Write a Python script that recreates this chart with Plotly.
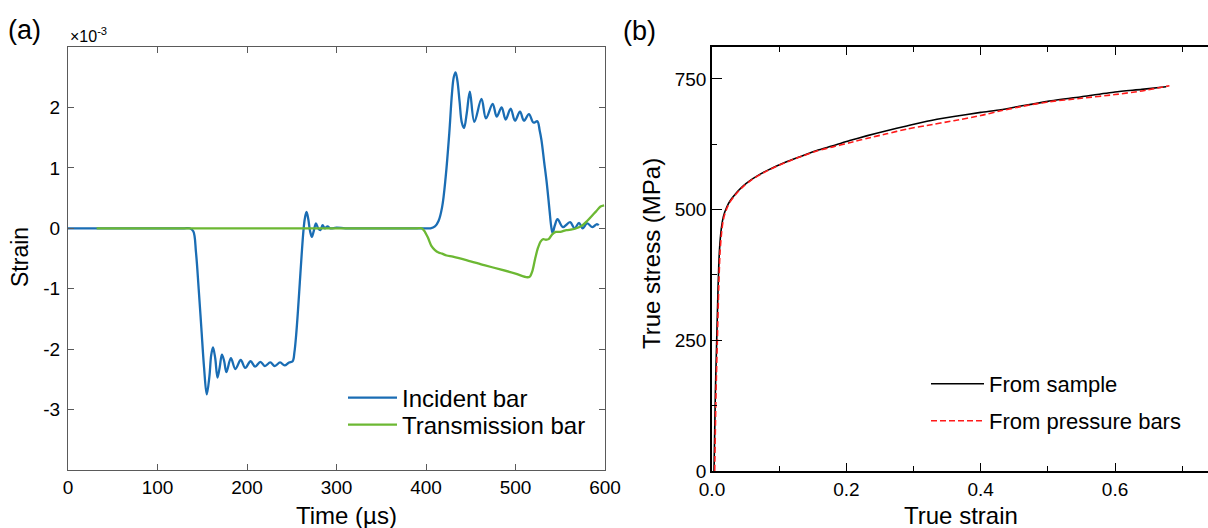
import plotly.graph_objects as go

# ---------------- (a) strain signals in the bars (values in units of 1e-3) ----------------
incident_time = [0, 40, 80, 110, 130, 136, 140, 143, 146, 149, 152, 155, 158, 160, 162, 164.5,
                 167, 169.5, 172, 174.5, 177, 182, 187, 193, 198, 204, 209, 215, 220, 226, 231,
                 237, 242, 247, 251, 253, 255, 257, 259, 261, 263, 264.5, 266.5, 268.5, 270.5,
                 272.5, 274.5, 277, 279.5, 282, 284.5, 287, 290, 293, 300, 310, 330, 350, 370,
                 390, 400, 405, 410, 414, 418, 422, 426, 429, 431, 433, 435, 437.5, 440, 442.5,
                 445.5, 449, 454, 462, 467, 474.5, 479, 484.5, 489, 494.6, 499.4, 505, 509.5,
                 515, 520, 524.4, 527, 529, 532, 535, 538, 540, 541.5, 544, 547, 553, 561, 566,
                 571, 575, 580, 586, 591, 593]
incident_strain = [0.0, 0.0, 0.0, 0.0, 0.0, 0.0, -0.05, -0.4, -1.0, -1.65, -2.3, -2.75, -2.45,
                   -2.1, -1.97, -2.15, -2.47, -2.3, -2.09, -2.2, -2.38, -2.15, -2.33, -2.18,
                   -2.31, -2.2, -2.29, -2.21, -2.28, -2.22, -2.28, -2.22, -2.27, -2.22, -2.2,
                   -2.05, -1.75, -1.35, -0.9, -0.45, -0.05, 0.15, 0.27, 0.15, -0.05, -0.14,
                   -0.05, 0.08, 0.0, -0.03, 0.05, 0.0, 0.03, 0.0, 0.01, 0.0, 0.0, 0.0, 0.0, 0.0,
                   0.0, 0.0, 0.03, 0.12, 0.35, 0.85, 1.57, 2.23, 2.5, 2.58, 2.45, 2.1, 1.75, 1.66,
                   1.9, 2.26, 1.76, 2.14, 1.82, 2.06, 1.85, 2.0, 1.8, 1.98, 1.78, 1.93, 1.78,
                   1.89, 1.75, 1.77, 1.62, 1.46, 1.1, 0.74, 0.3, 0.02, -0.08, 0.05, 0.15, 0.02,
                   0.10, 0.0, 0.09, 0.0, 0.08, 0.02, 0.07, 0.05]

transmission_time = [32, 80, 130, 180, 230, 280, 330, 370, 390, 395, 398, 402, 406, 410, 414,
                     418, 423, 430, 446, 465, 483, 500, 513, 516, 519, 522, 525, 528, 531, 534,
                     537, 541, 545, 550, 557, 563, 568, 574, 580, 585, 590, 595, 599]
transmission_strain = [0.0, 0.0, 0.0, 0.0, 0.0, 0.0, 0.0, 0.0, 0.0, 0.0, -0.04, -0.15, -0.29,
                       -0.36, -0.40, -0.42, -0.45, -0.47, -0.53, -0.61, -0.68, -0.75, -0.81,
                       -0.80, -0.70, -0.50, -0.33, -0.22, -0.18, -0.19, -0.18, -0.10, -0.06,
                       -0.06, -0.03, -0.02, 0.0, 0.04, 0.12, 0.20, 0.28, 0.36, 0.38]

time_ticks = [0, 100, 200, 300, 400, 500, 600]
strain_ticks = [-3, -2, -1, 0, 1, 2]
strain_tick_labels = ["-3", "-2", "-1", "0", "1", "2"]

# ---------------- (b) true stress-strain curves ----------------
sample_true_strain = [0.003, 0.005, 0.007, 0.009, 0.011, 0.014, 0.017, 0.022, 0.027, 0.033,
                      0.039, 0.047, 0.056, 0.068, 0.081, 0.097, 0.116, 0.135, 0.156, 0.18, 0.205,
                      0.23, 0.26, 0.29, 0.32, 0.36, 0.40, 0.43, 0.46, 0.50, 0.55, 0.60, 0.64, 0.676]
sample_true_stress = [0, 150, 250, 350, 420, 465, 487, 505, 517, 527, 536, 546, 555, 565, 574,
                      584, 594, 603, 613, 622, 632, 641, 651, 660, 669, 678, 686, 691, 698, 707,
                      716, 725, 730, 735]

bars_true_strain = [0.004, 0.006, 0.008, 0.010, 0.012, 0.015, 0.018, 0.023, 0.028, 0.034, 0.040,
                    0.048, 0.057, 0.069, 0.082, 0.098, 0.117, 0.136, 0.156, 0.18, 0.205, 0.23,
                    0.26, 0.29, 0.32, 0.36, 0.40, 0.43, 0.46, 0.50, 0.55, 0.60, 0.64, 0.681]
bars_true_stress = [0, 150, 250, 350, 420, 465, 487, 505, 517, 527, 536, 546, 555, 565, 574,
                    584, 594, 603, 612, 620, 628, 636, 645, 654, 661, 670, 680, 689, 697, 706,
                    713, 720, 727, 737]

true_strain_ticks = [0.0, 0.2, 0.4, 0.6]
true_strain_labels = ["0.0", "0.2", "0.4", "0.6"]
true_stress_ticks = [0, 250, 500, 750]

W, H = 1208, 528
FONT = "Liberation Sans, Arial, sans-serif"


def px_x(p):
    return p / W


def px_y(p):
    return 1 - p / H


BLUE = "#1a6db4"
GREEN = "#6cb833"
GREY = "#5a5a5a"

fig = go.Figure()

fig.add_trace(go.Scatter(
    x=incident_time, y=incident_strain, mode="lines", name="Incident bar",
    line=dict(color=BLUE, width=2.3, shape="spline", smoothing=1.0),
    xaxis="x", yaxis="y", legend="legend"))
fig.add_trace(go.Scatter(
    x=transmission_time, y=transmission_strain, mode="lines", name="Transmission bar",
    line=dict(color=GREEN, width=2.3, shape="spline", smoothing=0.8),
    xaxis="x", yaxis="y", legend="legend2"))

fig.add_trace(go.Scatter(
    x=sample_true_strain, y=sample_true_stress, mode="lines", name="From sample",
    line=dict(color="black", width=1.6, shape="spline", smoothing=0.6),
    xaxis="x2", yaxis="y2", legend="legend3"))
fig.add_trace(go.Scatter(
    x=bars_true_strain, y=bars_true_stress, mode="lines", name="From pressure bars",
    line=dict(color="#ff1a1a", width=1.6, dash="6px,3px", shape="spline", smoothing=0.6),
    xaxis="x2", yaxis="y2", legend="legend4"))

# panel geometry in pixels
a_left, a_right, top, a_bottom = 68, 605, 47, 470
b_left, b_bottom = 712, 471

tickfont = dict(family=FONT, size=19, color="black")

legend_common = dict(bgcolor="rgba(0,0,0,0)", borderwidth=0, xanchor="left", yanchor="middle",
                     tracegroupgap=0)

fig.update_layout(
    width=W, height=H,
    margin=dict(l=0, r=0, t=0, b=0, autoexpand=False),
    paper_bgcolor="white", plot_bgcolor="white",
    font=dict(family=FONT, color="black"),
    xaxis=dict(domain=[px_x(a_left), px_x(a_right)], range=[0, 600], anchor="y",
               tickvals=time_ticks, ticks="inside", ticklen=6, tickcolor=GREY,
               showline=True, linecolor=GREY, linewidth=1.2, mirror="ticks",
               showgrid=False, zeroline=False, tickfont=tickfont),
    yaxis=dict(domain=[px_y(a_bottom), px_y(top)], range=[-4, 3], anchor="x",
               tickvals=strain_ticks, ticktext=strain_tick_labels,
               ticks="inside", ticklen=6, tickcolor=GREY, ticklabelstandoff=3,
               showline=True, linecolor=GREY, linewidth=1.2, mirror="ticks",
               showgrid=False, zeroline=False, tickfont=tickfont),
    xaxis2=dict(domain=[px_x(b_left), 1.0], range=[0, (W - b_left) / 671.7], anchor="y2",
                tickvals=true_strain_ticks, ticktext=true_strain_labels,
                ticks="inside", ticklen=8, tickcolor="black",
                minor=dict(ticks="inside", ticklen=5, dtick=0.1, tick0=0, tickcolor="black"),
                showline=True, linecolor="black", linewidth=1.5, mirror="ticks",
                showgrid=False, zeroline=False, tickfont=tickfont),
    yaxis2=dict(domain=[px_y(b_bottom), px_y(top)], range=[0, 811], anchor="x2",
                tickvals=true_stress_ticks, ticks="inside", ticklen=10, tickcolor="black",
                minor=dict(ticks="inside", ticklen=5, dtick=125, tick0=0, tickcolor="black"),
                showline=True, linecolor="black", linewidth=1.5,
                showgrid=False, zeroline=False, tickfont=tickfont),
    # short outer stubs so the stress ticks cross the left spine
    yaxis3=dict(overlaying="y2", anchor="x2", side="left", range=[0, 811],
                tickvals=true_stress_ticks, ticks="outside", ticklen=5, tickcolor="black",
                showticklabels=False, showline=False, showgrid=False, zeroline=False),
    # tick stubs on the right-hand edge
    yaxis4=dict(overlaying="y2", anchor="x2", side="right", range=[0, 811],
                tickvals=true_stress_ticks, ticks="inside", ticklen=3, tickcolor="black",
                showticklabels=False, showline=False, showgrid=False, zeroline=False),
    legend=dict(x=px_x(343), y=px_y(398), itemwidth=49, font=dict(family=FONT, size=24),
                **legend_common),
    legend2=dict(x=px_x(343), y=px_y(425), itemwidth=49, font=dict(family=FONT, size=24),
                 **legend_common),
    legend3=dict(x=px_x(926), y=px_y(384), itemwidth=53, font=dict(family=FONT, size=22),
                 **legend_common),
    legend4=dict(x=px_x(926), y=px_y(421), itemwidth=53, font=dict(family=FONT, size=22),
                 **legend_common),
    showlegend=True,
)

annotations = [
    dict(text="(a)", x=px_x(6), y=px_y(30), xanchor="left", yanchor="middle",
         font=dict(size=27)),
    dict(text="\u00d710<sup>-3</sup>", x=px_x(68), y=px_y(35), xanchor="left", yanchor="middle",
         font=dict(size=16)),
    dict(text="Strain", x=px_x(20), y=px_y(257), xanchor="center", yanchor="middle",
         textangle=-90, font=dict(size=23)),
    dict(text="Time (\u00b5s)", x=px_x(346), y=px_y(515), xanchor="center", yanchor="middle",
         font=dict(size=24)),
    dict(text="(b)", x=px_x(621), y=px_y(31), xanchor="left", yanchor="middle",
         font=dict(size=27)),
    dict(text="True stress (MPa)", x=px_x(651), y=px_y(254), xanchor="center",
         yanchor="middle", textangle=-90, font=dict(size=24)),
    dict(text="True strain", x=px_x(961), y=px_y(515), xanchor="center", yanchor="middle",
         font=dict(size=24)),
]
for ann in annotations:
    ann.update(xref="paper", yref="paper", showarrow=False)
    ann["font"].update(family=FONT, color="black")
fig.update_layout(annotations=annotations)

fig.write_html("out.html")
